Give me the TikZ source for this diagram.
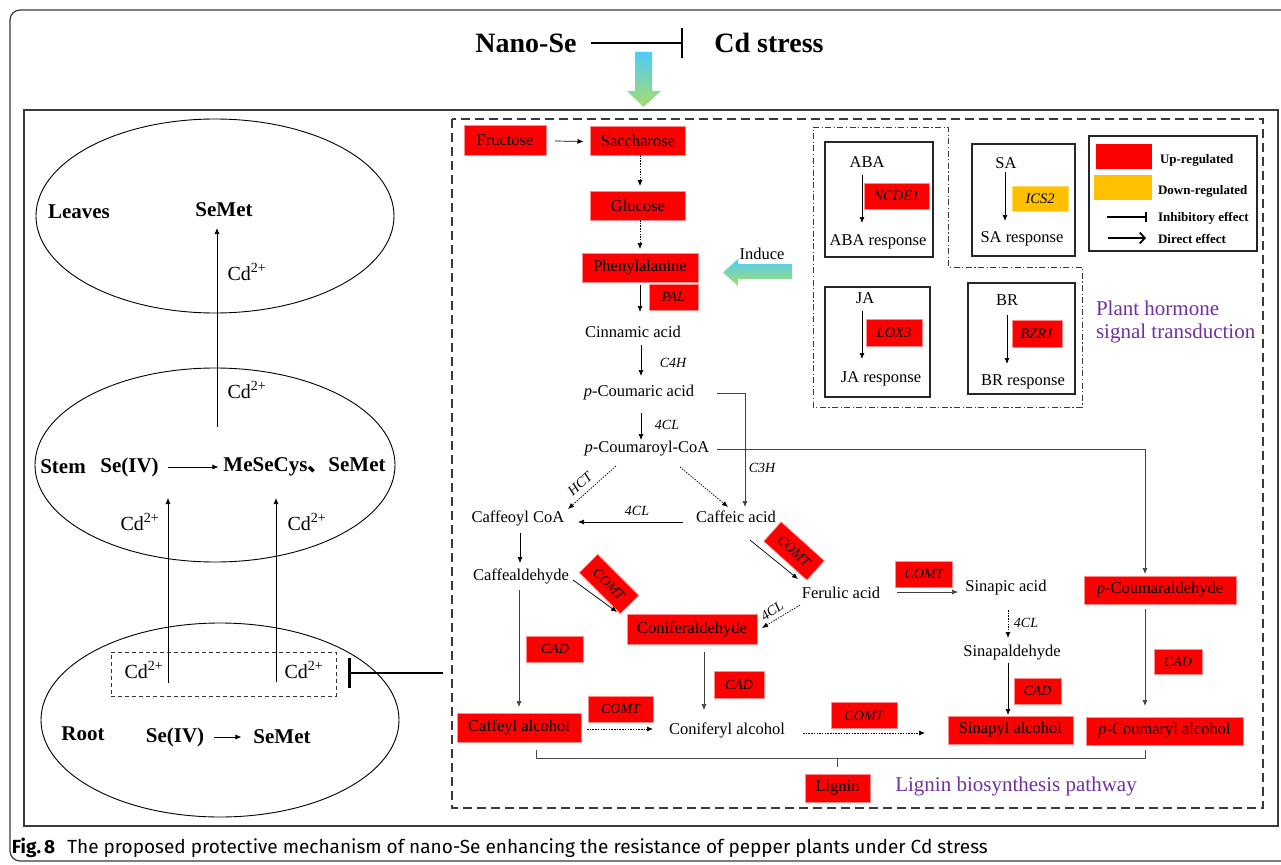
\documentclass[tikz,border=0pt]{standalone}
\usepackage{fontspec}
\setmainfont{Liberation Serif}
\newfontfamily\capfont{Fira Sans}
\newfontfamily\cjk{Noto Sans CJK SC}
\usetikzlibrary{arrows.meta,shapes.geometric,calc}
\definecolor{upred}{HTML}{FF0000}
\definecolor{downor}{HTML}{FFC000}
\definecolor{purp}{HTML}{7030A0}
\definecolor{frm}{HTML}{3A3A3A}
\definecolor{gcyan}{HTML}{4FCBF9}
\definecolor{ggreen}{HTML}{A6DD6A}
\begin{document}
\begin{tikzpicture}[x=1pt,y=-1pt,
 every node/.style={inner sep=0pt,outer sep=0pt},
 txt/.style={font=\fontsize{16.5}{19}\selectfont},
 enz/.style={font=\fontsize{14}{16}\selectfont\itshape},
 rbox/.style={fill=upred,draw=upred!45!white,line width=0.6pt,minimum height=29pt,font=\fontsize{16.5}{19}\selectfont},
 ebox/.style={fill=upred,draw=upred!45!white,line width=0.6pt,minimum height=26pt,font=\fontsize{14}{16}\selectfont\itshape},
 obox/.style={ebox,fill=downor,draw=downor!60!white},
 bld/.style={font=\fontsize{21}{24}\selectfont\bfseries},
 cdl/.style={font=\fontsize{20}{23}\selectfont},
 hbox/.style={draw=black!85,line width=1.3pt},
 leg/.style={font=\fontsize{13}{15}\selectfont\bfseries,anchor=west},
 ptitle/.style={font=\fontsize{21}{24}\selectfont,text=purp},
 arr/.style={-{Latex[length=6pt,width=5pt]},line width=0.7pt},
 darr/.style={arr,dash pattern=on 1.5pt off 1.2pt},
 organ/.style={ellipse,draw=black,line width=0.9pt,minimum width=358pt,minimum height=194pt},
]
\clip (0,0) rectangle (1281,864);
\fill[white] (0,0) rectangle (1281,864);
% frames
\draw[draw=frm,line width=1.2pt,rounded corners=10pt] (10,10) rectangle (1300,861);
\draw[draw=frm,line width=1.3pt] (24,110) rectangle (1278,826);
\draw[draw=frm,line width=1.2pt,dash pattern=on 9pt off 5pt] (452,119) rectangle (1263,808);

% top
\node[font=\fontsize{28}{32}\selectfont\bfseries] (nano) at (526,43) {Nano-Se};
\node[font=\fontsize{28}{32}\selectfont\bfseries] (cds) at (769,43) {Cd stress};
\draw[line width=1.8pt,-{Bar[width=30pt,line width=2pt]}] ($(nano.east)+(14,0)$) -- ($(cds.west)+(-31,0)$);
\shade[top color=gcyan,bottom color=ggreen] (635,52) -- (652,52) -- (652,91) -- (661,91) -- (643.5,107) -- (627,91) -- (635,91) -- cycle;

% left organs
\node[organ] (leaves) at (215,216) {};
\node[organ,minimum width=360pt] (stem) at (215,465) {};
\node[organ] (root) at (220,720) {};
\node[bld] at (79,212) {Leaves};
\node[bld] (lsemet) at (224,210) {SeMet};
\node[cdl] at (247,272) {Cd\textsuperscript{2+}};
\node[cdl] at (247,390) {Cd\textsuperscript{2+}};
\draw[arr] ($(stem)+(2,-38)$) -- ($(leaves)+(2,12)$);
\node[bld] at (63,467) {Stem};
\node[bld] (sse) at (129.5,467) {Se(IV)};
\node[bld] (smet) at (304.5,467) {MeSeCys{\cjk\bfseries 、}SeMet};
\draw[arr] ($(sse.east)+(9,0)$) -- ($(smet.west)+(-5,0)$);
\node[cdl] at (140,522) {Cd\textsuperscript{2+}};
\node[cdl] at (307,522) {Cd\textsuperscript{2+}};
\node[draw=black!80,line width=0.9pt,dash pattern=on 4pt off 3pt,minimum width=225pt,minimum height=44pt] (cdbox) at (223.5,674) {};
\node[cdl] at (144,670) {Cd\textsuperscript{2+}};
\node[cdl] at (304,670) {Cd\textsuperscript{2+}};
\draw[arr] ($(root)+(-52,-37)$) -- ($(stem)+(-47,33)$);
\draw[arr] ($(root)+(56,-38)$) -- ($(stem)+(61,33)$);
\node[bld] at (83,734) {Root};
\node[bld] (rse) at (175,737) {Se(IV)};
\node[bld] (rmet) at (282,737) {SeMet};
\draw[arr] ($(rse.east)+(10,0)$) -- ($(rmet.west)+(-12,0)$);
\coordinate (inh) at (443,673);
\draw[line width=2.4pt,-{Bar[width=30pt,line width=2.6pt]}] (inh) -- ($(cdbox.east)+(12,-1)$);

% pathway
\node[rbox,minimum width=82pt,minimum height=30pt] (fru) at (505,140) {Fructose};
\node[rbox,minimum width=95pt] (sac) at (638,140.5) {Saccharose};
\node[rbox,minimum width=95pt] (glu) at (638,205.5) {Glucose};
\node[rbox,minimum width=116pt] (phe) at (640,267.5) {Phenylalanine};
\node[ebox,minimum width=49pt] (pal) at (673.5,297) {PAL};
\node[txt] (cin) at (633,332) {Cinnamic acid};
\node[enz] at (673,363) {C4H};
\node[txt] (pcou) at (639,393) {\textit{p}-Coumaric acid};
\node[enz] at (667,425) {4CL};
\node[txt] (pcoa) at (647,449) {\textit{p}-Coumaroyl-CoA};
\node[enz] at (762,468) {C3H};
\node[enz,rotate=42] at (580,484) {HCT};
\node[txt] (cfcoa) at (518,518) {Caffeoyl CoA};
\node[txt] (cfa) at (736,517) {Caffeic acid};
\node[enz] at (637,511) {4CL};
\node[txt] (cald) at (521,576) {Caffealdehyde};
\node[ebox,minimum width=58pt,rotate=-42] at (794,551) {COMT};
\node[ebox,minimum width=58pt,rotate=-45] at (609,584) {COMT};
\node[txt] (fer) at (841,593) {Ferulic acid};
\node[enz,rotate=35] at (772,611) {4CL};
\node[rbox,minimum width=130pt,minimum height=30pt] (coni) at (692,629) {Coniferaldehyde};
\node[ebox,minimum width=57pt] at (924,574) {COMT};
\node[txt] (sina) at (1006,588) {Sinapic acid};
\node[enz] at (1026,623) {4CL};
\node[txt] (sinald) at (1012,653) {Sinapaldehyde};
\node[rbox,minimum width=152pt,minimum height=28pt] (pcald) at (1160,590) {\textit{p}-Coumaraldehyde};
\node[ebox,minimum width=57pt] at (555,649) {CAD};
\node[ebox,minimum width=50pt,minimum height=27pt] at (739,684.5) {CAD};
\node[ebox,minimum width=47pt] at (1037.5,691) {CAD};
\node[ebox,minimum width=48pt,minimum height=25pt] at (1178,661.5) {CAD};
\node[rbox,minimum width=124pt] (cfalc) at (519,727.5) {Caffeyl alcohol};
\node[ebox,minimum width=65pt] at (620.5,709) {COMT};
\node[txt] (conalc) at (727,730) {Coniferyl alcohol};
\node[ebox,minimum width=66pt] at (864,715.5) {COMT};
\node[rbox,minimum width=125pt,minimum height=28pt] (sinalc) at (1010.5,730) {Sinapyl alcohol};
\node[rbox,minimum width=157pt,minimum height=28pt] (pcalc) at (1164.5,731) {\textit{p}-Coumaryl alcohol};
\node[rbox,minimum width=65pt,minimum height=28pt] (lignin) at (837.5,788) {Lignin};
\node[ptitle] at (1016,786) {Lignin biosynthesis pathway};

% induce arrow
\node[txt] (induce) at (762,254) {Induce};
\shade[top color=gcyan,bottom color=ggreen] (792,264) -- (738,264) -- (738,259) -- (723,272.5) -- (738,286) -- (738,279) -- (792,279) -- cycle;

% pathway arrows
\draw[arr] ($(fru.east)+(9,1)$) -- ($(sac.west)+(-7,1)$);
\draw[darr] ($(sac.south)+(2,0)$) -- ($(glu.north)+(2,-5)$);
\draw[darr] ($(glu.south)+(2,0)$) -- ($(phe.north)+(0,-4)$);
\draw[arr] ($(phe)+(0,17.5)$) -- ($(cin)+(7,-20)$);
\draw[arr] ($(cin)+(8,13)$) -- ($(pcou)+(2,-17)$);
\draw[arr] ($(pcou)+(2,20)$) -- ($(pcoa)+(-6,-9)$);
\draw[arr,draw=black!75] ($(pcou)+(78,0)$) -| ($(cfa)+(9,-10)$);
\draw[arr,draw=black!75] ($(pcoa)+(70,0)$) -| ($(pcald)+(-15,-16)$);
\draw[darr] ($(pcoa)+(-31,17)$) -- ($(cfcoa)+(50,-9)$);
\draw[darr] ($(pcoa)+(33,18)$) -- ($(cfa)+(-8,-10)$);
\draw[arr] ($(cfa)+(-53,5)$) -- ($(cfcoa)+(60,4)$);
\draw[arr] ($(cfcoa)+(2,15)$) -- ($(cald)+(-1,-13)$);
\draw[arr] ($(cald)+(52,4)$) -- ($(coni)+(-75,-17)$);
\draw[arr] ($(cfa)+(14,23)$) -- ($(fer)+(-43,-14)$);
\draw[darr] ($(fer)+(-41,12)$) -- ($(coni)+(70,-1)$);
\draw[arr,draw=black!75] ($(fer)+(56,-1)$) -- ($(sina)+(-48,4)$);
\draw[darr] ($(sina)+(2,22)$) -- ($(sinald)+(-4,-15)$);
\draw[arr] ($(sinald)+(-4,10)$) -- ($(sinalc)+(-2.5,-15)$);
\draw[arr,draw=black!75] ($(cald)+(-2,14)$) -- ($(cfalc)+(0,-20.5)$);
\draw[arr,draw=black!75] ($(coni)+(12,23)$) -- ($(conalc)+(-23,-20)$);
\draw[darr] ($(cfalc)+(68,1.5)$) -- ($(conalc)+(-74,-1)$);
\draw[darr] ($(conalc)+(76,3)$) -- ($(sinalc)+(-85.5,3)$);
\draw[arr,draw=black!75] ($(pcald)+(-15,19)$) -- ($(pcalc)+(-19.5,-25)$);
\draw[line width=0.7pt,draw=black!70] ($(cfalc)+(17,22.5)$) -- ++(0,8) -| ($(pcalc)+(-19.5,19)$);
\draw[line width=0.7pt,draw=black!70] ($(lignin)+(0,-30)$) -- ($(lignin)+(0,-21)$);

% hormone region
\draw[draw=frm,line width=1pt,dash pattern=on 6pt off 2.5pt on 1.2pt off 2.5pt] (813,127) -- (948,127) -- (948,267) -- (1082,267) -- (1082,407) -- (813,407) -- cycle;
\node[hbox,minimum width=108pt,minimum height=115pt] (abab) at (879,199.5) {};
\node[txt] (abaT) at (867,162) {ABA};
\node[ebox,minimum width=65pt,font=\fontsize{14.5}{16}\selectfont\itshape] (ncde) at (896.5,196) {NCDE1};
\node[txt] (abaR) at (878,242) {ABA response};
\draw[arr] ($(abaT)+(-5,13)$) -- ($(abaR)+(-16,-19)$);

\node[hbox,minimum width=103pt,minimum height=112pt] (sab) at (1023.5,200) {};
\node[txt] (saT) at (1006,163) {SA};
\node[obox,minimum width=56pt,minimum height=25pt,font=\fontsize{14.5}{16}\selectfont\itshape] (ics) at (1040,198.5) {ICS2};
\node[txt] (saR) at (1022,239) {SA response};
\draw[arr] ($(saT)+(-1,9)$) -- ($(saR)+(-17,-18)$);

\node[hbox,minimum width=105pt,minimum height=110pt] (jab) at (877.5,342) {};
\node[txt] (jaT) at (865,298) {JA};
\node[ebox,minimum width=56pt,minimum height=27pt,font=\fontsize{14.5}{16}\selectfont\itshape] (lox) at (894,332.5) {LOX3};
\node[txt] (jaR) at (881,379) {JA response};
\draw[arr] ($(jaT)+(-3,13)$) -- ($(jaR)+(-19,-20)$);

\node[hbox,minimum width=107pt,minimum height=111pt] (brb) at (1021.5,338.5) {};
\node[txt] (brT) at (1007,300) {BR};
\node[ebox,minimum width=50pt,minimum height=27pt,font=\fontsize{14.5}{16}\selectfont\itshape] (bzr) at (1037,333.5) {BZR1};
\node[txt] (brR) at (1023,382) {BR response};
\draw[arr] ($(brT)+(0,15)$) -- ($(brR)+(-16,-18)$);

\node[ptitle,anchor=west] at (1096,308) {Plant hormone};
\node[ptitle,anchor=west] at (1096,333) {signal transduction};

% legend
\node[hbox,minimum width=168pt,minimum height=115pt] (legb) at (1173,193.5) {};
\node[fill=upred,minimum width=56pt,minimum height=25pt] (sw1) at (1124,156.5) {};
\node[fill=downor,minimum width=58pt,minimum height=25pt] (sw2) at (1123,187.5) {};
\node[leg] (l1) at (1160,160) {Up-regulated};
\node[leg] (l2) at (1158,191) {Down-regulated};
\node[leg] (l3) at (1158,218) {Inhibitory effect};
\node[leg] (l4) at (1158,239) {Direct effect};
\draw[line width=1.8pt,-{Bar[width=10pt,line width=2pt]}] ($(l3.west)+(-51,-1)$) -- ($(l3.west)+(-11,-1)$);
\draw[line width=1.8pt,-{Straight Barb[length=5pt,width=11pt,line width=1.8pt]}] ($(l4.west)+(-50,-1)$) -- ($(l4.west)+(-12,-1)$);

% caption
\node[anchor=west,font=\capfont\fontsize{19}{22}\selectfont] (cap) at (12,848) {\textbf{Fig.\,8}\hspace{12pt}The proposed protective mechanism of nano-Se enhancing the resistance of pepper plants under Cd stress};
\end{tikzpicture}
\end{document}
